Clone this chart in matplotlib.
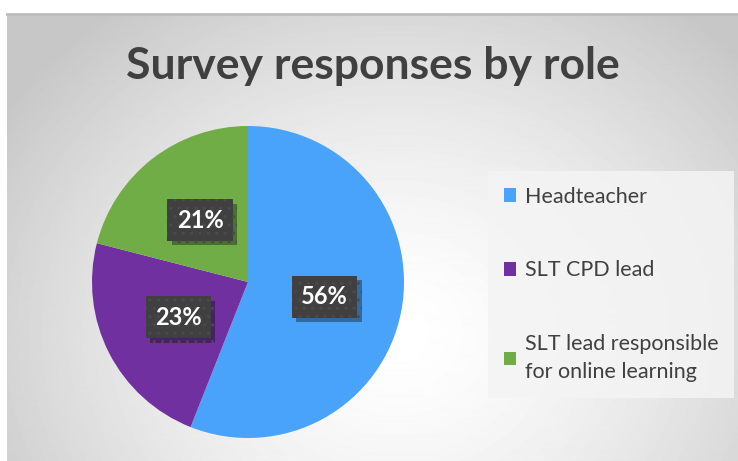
import matplotlib.pyplot as plt
import matplotlib.patheffects as pe
import numpy as np

roles = ['Headteacher', 'SLT CPD lead', 'SLT lead responsible\nfor online learning']
shares = [56, 23, 21]
colors = ['#4aa3fb', '#7030a0', '#70ad47']

plt.rcParams['font.family'] = ['Lato', 'DejaVu Sans']
plt.rcParams['hatch.color'] = '#4a4a4a'
plt.rcParams['hatch.linewidth'] = 1.0

W, H = 738, 461
fig = plt.figure(figsize=(W / 100, H / 100), dpi=100)

# radial grey background of the chart area
bg = fig.add_axes([7 / W, 0, (W - 7) / W, (H - 14) / H], zorder=0)
yy, xx = np.mgrid[0:447, 0:731]
d = np.hypot(xx - 390, (yy - 320) * 1.15) / 470.0
d = np.clip(d, 0, 1)
shade = 1.0 - 0.22 * d ** 1.5
bg.imshow(shade, cmap='gray', vmin=0, vmax=1, aspect='auto', extent=[0, 1, 0, 1], origin='upper')
bg.plot([0, 1], [1, 1], color='#bdbdbd', lw=2, transform=bg.transAxes, clip_on=False)
bg.axis('off')

fig.text(373 / W, 1 - 66 / H, 'Survey responses by role', ha='center', va='center',
         fontsize=32, fontweight='bold', color='#404040')

ax = fig.add_axes([(248 - 160) / W, 1 - (282 + 160) / H, 320 / W, 320 / H], zorder=2)
wedges, texts, autotexts = ax.pie(shares, colors=colors, startangle=90, counterclock=False,
                                  radius=156 / 160, autopct='%d%%', pctdistance=0.5,
                                  wedgeprops=dict(linewidth=0))
ax.set_xlim(-1, 1)
ax.set_ylim(-1, 1)
ax.set_aspect('equal')

for t in autotexts:
    t.set_color('white')
    t.set_fontsize(17)
    t.set_fontweight('bold')
    t.set_bbox(dict(boxstyle='square,pad=0.4', facecolor='#404040', edgecolor='#4a4a4a',
                    linewidth=0, hatch='..'))
    t.get_bbox_patch().set_path_effects([
        pe.SimplePatchShadow(offset=(3, -3), shadow_rgbFace='black', alpha=0.35),
        pe.Normal()])

leg = fig.legend(wedges, roles, loc='upper left', bbox_to_anchor=(488 / W, 1 - 171 / H),
                 borderaxespad=0, fontsize=15.5, frameon=True, fancybox=False,
                 labelspacing=2.5, handlelength=0.6, handleheight=0.6, handletextpad=0.4,
                 borderpad=0.72, labelcolor='#404040')
for t in leg.get_texts():
    t.set_linespacing(1.5)
leg.get_frame().set_facecolor('#f4f4f4')
leg.get_frame().set_alpha(0.85)
leg.get_frame().set_linewidth(0)

fig.savefig('out.png', dpi=100)
